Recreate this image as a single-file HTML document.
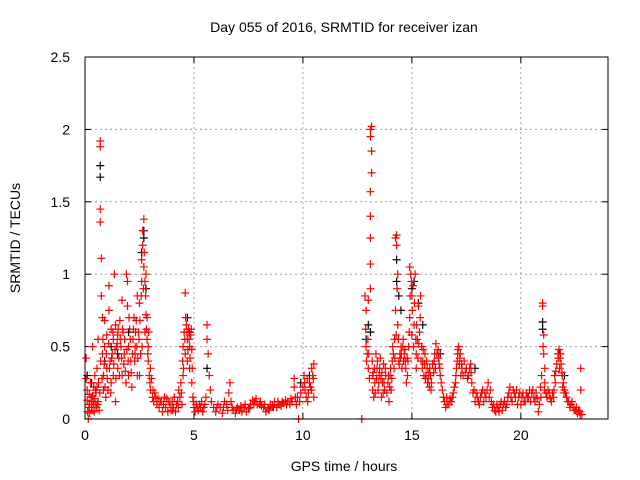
<!DOCTYPE html>
<html><head><meta charset="utf-8"><style>
body{margin:0;background:#fff;}
svg{display:block;font-family:"Liberation Sans",sans-serif;}
</style></head><body>
<svg id="chart" width="640" height="480">
<text x="344" y="32" font-size="14" text-anchor="middle" fill="#000">Day 055 of 2016, SRMTID for receiver izan</text>
<g id="grid"></g>
<g id="ticks"></g>
<g id="marks"></g>
<rect x="85" y="57" width="523" height="362" fill="none" stroke="#000" stroke-width="1"/>
<text x="344" y="471" font-size="14" text-anchor="middle">GPS time / hours</text>
<text transform="translate(20,238) rotate(-90)" font-size="14" text-anchor="middle">SRMTID / TECUs</text>
</svg>
<script>
const xTicks = [0,5,10,15,20];
const yTicks = [0,0.5,1,1.5,2,2.5];
const yTickLabels = ["0","0.5","1","1.5","2","2.5"];
const blackPts = [[0.1,0.3],[0.3,0.25],[0.7,1.75],[0.7,1.67],[0.9,0.4],[1.2,0.5],[1.5,0.45],[2.0,0.6],[2.6,1.15],[2.7,1.3],[2.7,1.25],[2.8,0.9],[4.7,0.7],[4.8,0.6],[5.6,0.35],[9.9,0.25],[10.3,0.3],[13.0,0.65],[13.1,0.6],[12.9,0.55],[14.3,1.1],[14.3,0.95],[14.4,0.85],[14.5,0.75],[15.0,0.9],[15.1,0.95],[15.3,0.8],[15.5,0.65],[16.3,0.45],[17.9,0.35],[21.0,0.62],[21.0,0.67],[21.8,0.45],[22.0,0.3]];
const redPts = [
[0.05,0.42],[0.05,0.28],[0.1,0.2],[0.1,0.13],[0.15,0.0],[0.2,0.1],[0.2,0.17],[0.25,0.25],[0.3,0.12],[0.3,0.08],[0.35,0.5],[0.35,0.16],[0.4,0.1],[0.4,0.22],[0.45,0.3],[0.45,0.14],[0.5,0.1],[0.5,0.18],[0.55,0.22],[0.55,0.35],[0.6,0.12],[0.6,0.55],[0.65,0.06],[0.7,1.92],[0.7,1.88],[0.7,1.45],[0.7,1.36],[0.75,1.11],[0.75,0.85],[0.8,0.45],[0.8,0.7],[0.85,0.2],[0.85,0.3],[0.9,0.5],[0.9,0.68],[0.95,0.15],[1.0,0.35],[1.0,0.58],[1.05,0.2],[1.1,0.92],[1.1,0.75],[1.15,0.4],[1.2,0.25],[1.2,0.62],[1.25,0.45],[1.3,0.3],[1.3,0.55],[1.35,1.0],[1.4,0.12],[1.4,0.65],[1.45,0.5],[1.5,0.35],[1.5,0.58],[1.55,0.42],[1.6,0.68],[1.65,0.5],[1.7,0.3],[1.7,0.82],[1.75,0.6],[1.8,0.45],[1.85,0.33],[1.9,1.0],[1.95,0.95],[1.95,0.78],[2.0,0.5],[2.0,0.3],[2.05,0.62],[2.1,0.4],[2.15,0.22],[2.2,0.55],[2.25,0.7],[2.3,0.5],[2.3,0.45],[2.35,0.68],[2.4,0.3],[2.4,0.85],[2.45,0.6],[2.5,0.3],[2.5,0.8],[2.55,0.45],[2.6,0.95],[2.6,1.1],[2.65,1.2],[2.65,1.3],[2.7,1.38],[2.7,1.05],[2.75,0.95],[2.75,0.6],[2.8,1.0],[2.8,0.72],[2.85,0.55],[2.85,0.7],[2.9,0.5],[2.9,0.4],[2.95,0.3],[3.0,0.35],[3.0,0.2],[3.1,0.15],[3.15,0.12],[3.2,0.18],[3.3,0.1],[3.35,0.14],[3.4,0.08],[3.5,0.12],[3.55,0.05],[3.6,0.1],[3.7,0.08],[3.75,0.14],[3.8,0.05],[3.9,0.1],[3.95,0.06],[4.0,0.12],[4.05,0.08],[4.1,0.15],[4.15,0.05],[4.2,0.1],[4.25,0.12],[4.3,0.2],[4.35,0.15],[4.4,0.25],[4.45,0.1],[4.5,0.3],[4.5,0.5],[4.55,0.6],[4.6,0.87],[4.6,0.45],[4.65,0.65],[4.7,0.55],[4.7,0.4],[4.75,0.62],[4.8,0.35],[4.8,0.5],[4.85,0.58],[4.9,0.25],[4.9,0.48],[4.95,0.15],[5.0,0.08],[5.05,0.05],[5.1,0.1],[5.2,0.06],[5.3,0.08],[5.35,0.12],[5.4,0.05],[5.5,0.1],[5.55,0.15],[5.6,0.65],[5.6,0.55],[5.65,0.45],[5.7,0.3],[5.75,0.2],[5.8,0.12],[5.9,0.08],[6.0,0.05],[6.1,0.1],[6.2,0.08],[6.3,0.04],[6.4,0.12],[6.5,0.1],[6.6,0.18],[6.65,0.25],[6.7,0.12],[6.8,0.06],[6.9,0.04],[7.0,0.08],[7.1,0.06],[7.2,0.05],[7.3,0.08],[7.4,0.05],[7.5,0.07],[7.6,0.1],[7.7,0.13],[7.8,0.12],[7.9,0.1],[8.0,0.1],[8.1,0.09],[8.2,0.08],[8.3,0.05],[8.4,0.07],[8.5,0.1],[8.6,0.09],[8.7,0.12],[8.8,0.08],[8.9,0.1],[9.0,0.09],[9.1,0.11],[9.2,0.13],[9.3,0.12],[9.4,0.1],[9.5,0.12],[9.6,0.28],[9.6,0.22],[9.7,0.1],[9.75,0.15],[9.8,0.0],[9.9,0.18],[10.0,0.22],[10.05,0.3],[10.1,0.2],[10.15,0.15],[10.2,0.28],[10.25,0.18],[10.3,0.25],[10.4,0.35],[10.4,0.2],[10.45,0.3],[10.5,0.15],[10.5,0.38],
[12.7,0.0],[12.85,0.85],[12.9,0.75],[12.9,0.5],[12.95,0.45],[13.0,0.35],[13.0,0.82],[13.05,0.28],[13.1,2.0],[13.1,1.95],[13.15,2.02],[13.15,1.85],[13.15,1.7],[13.1,1.57],[13.1,1.4],[13.1,1.25],[13.1,1.07],[13.1,0.9],[13.2,0.3],[13.2,0.2],[13.25,0.15],[13.3,0.25],[13.35,0.45],[13.4,0.35],[13.45,0.2],[13.5,0.3],[13.55,0.42],[13.6,0.15],[13.65,0.25],[13.7,0.38],[13.75,0.2],[13.8,0.3],[13.9,0.25],[13.95,0.12],[14.0,0.3],[14.05,0.2],[14.1,0.4],[14.15,0.45],[14.2,0.55],[14.25,0.75],[14.25,1.25],[14.3,1.2],[14.3,1.27],[14.35,1.0],[14.35,0.65],[14.4,0.4],[14.45,0.45],[14.5,0.5],[14.55,0.35],[14.6,0.55],[14.65,0.45],[14.7,0.4],[14.75,0.25],[14.8,0.3],[14.85,0.5],[14.9,0.7],[14.9,1.05],[14.95,1.0],[15.0,0.85],[15.0,0.58],[15.05,0.92],[15.1,0.65],[15.15,1.0],[15.2,0.45],[15.2,0.35],[15.25,0.55],[15.3,0.78],[15.35,0.6],[15.4,0.85],[15.45,0.5],[15.5,0.4],[15.55,0.3],[15.6,0.45],[15.65,0.3],[15.7,0.35],[15.75,0.28],[15.8,0.22],[15.85,0.3],[15.9,0.25],[16.0,0.32],[16.05,0.45],[16.1,0.52],[16.2,0.48],[16.25,0.38],[16.3,0.3],[16.4,0.2],[16.5,0.12],[16.55,0.08],[16.6,0.15],[16.7,0.1],[16.8,0.12],[16.9,0.18],[17.0,0.25],[17.05,0.35],[17.1,0.45],[17.15,0.5],[17.2,0.42],[17.25,0.3],[17.3,0.35],[17.4,0.4],[17.5,0.35],[17.6,0.3],[17.7,0.38],[17.75,0.25],[17.8,0.18],[17.9,0.12],[18.0,0.15],[18.1,0.1],[18.2,0.18],[18.3,0.12],[18.4,0.15],[18.5,0.25],[18.6,0.2],[18.7,0.08],[18.8,0.06],[18.9,0.1],[19.0,0.05],[19.1,0.12],[19.2,0.1],[19.3,0.08],[19.4,0.15],[19.5,0.22],[19.6,0.12],[19.7,0.18],[19.8,0.2],[19.9,0.15],[20.0,0.1],[20.1,0.18],[20.2,0.12],[20.3,0.15],[20.4,0.2],[20.5,0.18],[20.6,0.15],[20.7,0.18],[20.8,0.05],[20.85,0.1],[20.9,0.22],[20.95,0.3],[21.0,0.8],[21.0,0.78],[21.05,0.58],[21.05,0.45],[21.1,0.35],[21.1,0.25],[21.2,0.15],[21.3,0.18],[21.4,0.12],[21.5,0.15],[21.55,0.3],[21.6,0.33],[21.7,0.45],[21.75,0.48],[21.8,0.42],[21.85,0.38],[21.9,0.3],[21.95,0.25],[22.0,0.2],[22.1,0.15],[22.2,0.12],[22.3,0.1],[22.4,0.08],[22.5,0.06],[22.6,0.04],[22.7,0.05],[22.75,0.35],[22.75,0.2],[22.8,0.03]
];
const redExtra = [
[0.12,0.05],[0.18,0.08],[0.22,0.04],[0.28,0.15],[0.32,0.06],[0.38,0.12],[0.42,0.05],[0.48,0.2],[0.52,0.08],[0.58,0.1],[0.62,0.25],[0.68,0.18],[0.72,0.4],[0.78,0.28],[0.82,0.55],[0.88,0.38],[0.92,0.22],[0.98,0.45],[1.02,0.28],[1.08,0.52],[1.12,0.35],[1.18,0.18],[1.22,0.42],[1.28,0.6],[1.32,0.38],[1.38,0.48],[1.42,0.28],[1.48,0.52],[1.52,0.62],[1.58,0.3],[1.62,0.55],[1.68,0.42],[1.72,0.62],[1.78,0.38],[1.82,0.55],[1.88,0.25],[1.92,0.48],[1.98,0.4],[2.02,0.7],[2.08,0.55],[2.12,0.32],[2.18,0.45],[2.22,0.62],[2.28,0.4],[2.32,0.6],[2.38,0.5],[2.42,0.42],[2.48,0.55],[2.52,0.68],[2.58,0.85],[2.62,0.5],[2.68,0.9],[2.72,1.15],[2.78,0.85],[2.82,0.62],[2.88,0.45],[2.92,0.6],[2.98,0.25],[3.05,0.28],[3.12,0.2],[3.25,0.15],[3.45,0.12],[3.65,0.15],[3.85,0.12],[4.02,0.06],[4.28,0.08],[4.42,0.18],[4.48,0.4],[4.52,0.35],[4.58,0.55],[4.62,0.7],[4.68,0.6],[4.72,0.48],[4.78,0.55],[4.82,0.42],[4.88,0.62],[4.92,0.35],[4.98,0.12],[5.15,0.08],[5.25,0.1],[5.45,0.08],[6.05,0.08],[6.35,0.08],[6.55,0.06],[6.75,0.08],[6.95,0.07],[7.15,0.09],[7.35,0.1],[7.55,0.08],[7.75,0.1],[7.85,0.14],[8.05,0.12],[8.25,0.1],[8.45,0.06],[8.65,0.08],[8.85,0.12],[9.05,0.12],[9.25,0.1],[9.45,0.14],[9.65,0.15],[9.85,0.12],[10.08,0.25],[10.22,0.12],[10.35,0.22],[10.48,0.28],
[12.88,0.62],[12.92,0.4],[12.98,0.55],[13.02,0.45],[13.18,0.4],[13.22,0.32],[13.28,0.35],[13.32,0.18],[13.38,0.28],[13.42,0.4],[13.48,0.25],[13.52,0.35],[13.58,0.28],[13.62,0.32],[13.68,0.18],[13.72,0.25],[13.78,0.35],[13.85,0.18],[13.92,0.3],[13.98,0.22],[14.02,0.35],[14.08,0.28],[14.12,0.5],[14.18,0.35],[14.22,0.42],[14.28,0.58],[14.32,0.9],[14.38,0.55],[14.42,0.38],[14.48,0.42],[14.52,0.45],[14.58,0.5],[14.62,0.4],[14.68,0.48],[14.72,0.35],[14.78,0.42],[14.82,0.4],[14.88,0.6],[14.92,0.85],[14.98,0.95],[15.02,0.75],[15.08,0.5],[15.12,0.8],[15.18,0.55],[15.22,0.65],[15.28,0.42],[15.32,0.52],[15.38,0.7],[15.42,0.4],[15.48,0.35],[15.52,0.48],[15.58,0.38],[15.62,0.28],[15.68,0.4],[15.72,0.25],[15.78,0.32],[15.82,0.35],[15.88,0.2],[15.95,0.38],[16.02,0.4],[16.08,0.35],[16.15,0.45],[16.22,0.42],[16.28,0.35],[16.35,0.25],[16.45,0.15],[16.62,0.1],[16.75,0.14],[16.85,0.15],[16.95,0.22],[17.02,0.3],[17.08,0.4],[17.12,0.48],[17.18,0.38],[17.22,0.45],[17.28,0.38],[17.35,0.3],[17.45,0.32],[17.55,0.28],[17.65,0.35],[17.72,0.32],[17.85,0.2],[17.95,0.18],[18.05,0.12],[18.15,0.15],[18.25,0.2],[18.35,0.18],[18.45,0.2],[18.55,0.15],[18.65,0.12],[18.75,0.1],[18.85,0.05],[18.95,0.08],[19.05,0.1],[19.15,0.06],[19.25,0.12],[19.35,0.1],[19.45,0.18],[19.55,0.15],[19.65,0.2],[19.75,0.15],[19.85,0.1],[19.95,0.18],[20.05,0.15],[20.15,0.12],[20.25,0.18],[20.35,0.15],[20.45,0.12],[20.55,0.2],[20.65,0.12],[20.75,0.14],[20.92,0.15],[21.02,0.5],[21.08,0.2],[21.15,0.18],[21.25,0.2],[21.35,0.14],[21.45,0.18],[21.52,0.2],[21.58,0.25],[21.65,0.38],[21.72,0.42],[21.78,0.35],[21.82,0.45],[21.88,0.32],[21.92,0.22],[21.98,0.18],[22.05,0.18],[22.15,0.12],[22.25,0.08],[22.35,0.12],[22.45,0.06],[22.55,0.08],[22.65,0.06],[22.72,0.03]
];
const X0=85, X1=608, Y0=419, Y1=57, XMAX=24, YMAX=2.5;
function sx(v){return X0+(X1-X0)*v/XMAX;}
function sy(v){return Y0-(Y0-Y1)*v/YMAX;}
const NS="http://www.w3.org/2000/svg";
const grid=document.getElementById('grid'), ticks=document.getElementById('ticks'), marks=document.getElementById('marks');
function mk(tag,attrs,parent){const e=document.createElementNS(NS,tag);for(const k in attrs)e.setAttribute(k,attrs[k]);parent.appendChild(e);return e;}
xTicks.forEach(t=>{
  const x=sx(t);
  if(t>0){const g=mk('line',{x1:x,x2:x,y1:Y1,y2:Y0,stroke:'#a0a0a0','stroke-dasharray':'2,3'},grid);
  
  }
  mk('line',{x1:x,x2:x,y1:Y0,y2:Y0-6,stroke:'#000'},ticks);
  mk('line',{x1:x,x2:x,y1:Y1,y2:Y1+6,stroke:'#000'},ticks);
  const l=mk('text',{x:x,y:Y0+21,'font-size':14,'text-anchor':'middle'},ticks);
  l.textContent=String(t);
  
  
});
yTicks.forEach((t,i)=>{
  const y=sy(t);
  if(t>0&&t<YMAX){const g=mk('line',{x1:X0,x2:X1,y1:y,y2:y,stroke:'#a0a0a0','stroke-dasharray':'2,3'},grid);
  
  }
  mk('line',{x1:X0,x2:X0+6,y1:y,y2:y,stroke:'#000'},ticks);
  mk('line',{x1:X1,x2:X1-6,y1:y,y2:y,stroke:'#000'},ticks);
  const l=mk('text',{x:X0-15,y:y+5,'font-size':14,'text-anchor':'end'},ticks);
  l.textContent=yTickLabels[i];
  
  
});
function plus(p,color,name){
  const x=sx(p[0]), y=sy(p[1]);
  const e=mk('path',{d:`M${x-4},${y}h8M${x},${y-4}v8`,stroke:color,'stroke-width':1.2,fill:'none'},marks);
  
  
}
blackPts.forEach(p=>plus(p,'#000','black-point'));
redPts.forEach(p=>plus(p,'#ff0000','red-point'));
redExtra.forEach(p=>plus(p,'#ff0000','red-point'));
</script>
</body></html>
